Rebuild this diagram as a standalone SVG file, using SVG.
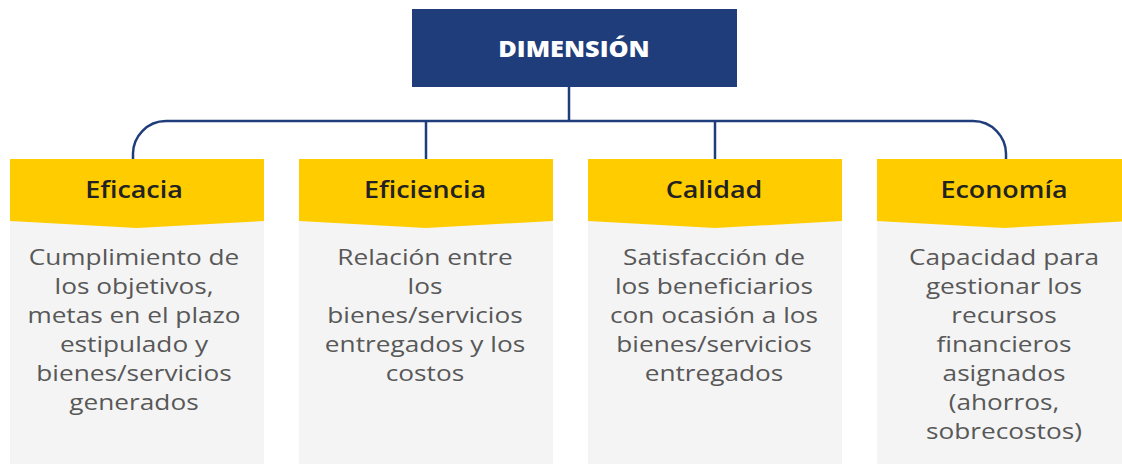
<svg xmlns="http://www.w3.org/2000/svg" width="1122" height="464" viewBox="0 0 1122 464">
<style>
.hdr{fill:#FFCC00}
.body{fill:#F4F4F4}
.ht{font-family:"Open Sans","Liberation Sans",sans-serif;font-weight:600;font-size:23px;fill:#222;text-anchor:middle}
.bt{font-family:"Open Sans","Liberation Sans",sans-serif;font-size:21.5px;fill:#585858;text-anchor:middle}
.conn{fill:none;stroke:#1F3D7A;stroke-width:2.5}
</style>
<rect width="1122" height="464" fill="#fff"/>
<g id="connectors">
<path class="conn" d="M569 87 V121"/>
<path class="conn" d="M133 159 V155 A33 33 0 0 1 166 121 H973 A33 33 0 0 1 1006 155 V159"/>
<path class="conn" d="M426 121 V159"/>
<path class="conn" d="M715 121 V159"/>
</g>
<g id="dimension">
<rect x="412" y="9" width="325" height="78" fill="#1F3D7A"/>
<text transform="translate(574 0) scale(1.1 1)" x="0" y="57" font-family="'Open Sans','Liberation Sans',sans-serif" font-weight="800" font-size="23" fill="#fff" text-anchor="middle">DIMENSIÓN</text>
</g>
<g id="eficacia">
<rect class="body" x="10" y="215" width="254" height="249"/>
<path class="hdr" d="M10 159 H264 V221 L137 228 L10 221 Z"/>
<text class="ht" transform="translate(134 0) scale(1.17 1)" x="0" y="198">Eficacia</text>
<text class="bt" transform="translate(134 0) scale(1.22 1)"><tspan x="0" y="265">Cumplimiento de</tspan><tspan x="0" y="294">los objetivos,</tspan><tspan x="0" y="323">metas en el plazo</tspan><tspan x="0" y="352">estipulado y</tspan><tspan x="0" y="381">bienes/servicios</tspan><tspan x="0" y="410">generados</tspan></text>
</g>
<g id="eficiencia">
<rect class="body" x="299" y="215" width="254" height="249"/>
<path class="hdr" d="M299 159 H553 V221 L426 228 L299 221 Z"/>
<text class="ht" transform="translate(425 0) scale(1.17 1)" x="0" y="198">Eficiencia</text>
<text class="bt" transform="translate(425 0) scale(1.22 1)"><tspan x="0" y="265">Relación entre</tspan><tspan x="0" y="294">los</tspan><tspan x="0" y="323">bienes/servicios</tspan><tspan x="0" y="352">entregados y los</tspan><tspan x="0" y="381">costos</tspan></text>
</g>
<g id="calidad">
<rect class="body" x="588" y="215" width="254" height="249"/>
<path class="hdr" d="M588 159 H842 V221 L715 228 L588 221 Z"/>
<text class="ht" transform="translate(714 0) scale(1.17 1)" x="0" y="198">Calidad</text>
<text class="bt" transform="translate(714 0) scale(1.22 1)"><tspan x="0" y="265">Satisfacción de</tspan><tspan x="0" y="294">los beneficiarios</tspan><tspan x="0" y="323">con ocasión a los</tspan><tspan x="0" y="352">bienes/servicios</tspan><tspan x="0" y="381">entregados</tspan></text>
</g>
<g id="economia">
<rect class="body" x="877" y="215" width="254" height="249"/>
<path class="hdr" d="M877 159 H1131 V221 L1004 228 L877 221 Z"/>
<text class="ht" transform="translate(1004 0) scale(1.17 1)" x="0" y="198">Economía</text>
<text class="bt" transform="translate(1004 0) scale(1.22 1)"><tspan x="0" y="265">Capacidad para</tspan><tspan x="0" y="294">gestionar los</tspan><tspan x="0" y="323">recursos</tspan><tspan x="0" y="352">financieros</tspan><tspan x="0" y="381">asignados</tspan><tspan x="0" y="410">(ahorros,</tspan><tspan x="0" y="439">sobrecostos)</tspan></text>
</g>
</svg>
